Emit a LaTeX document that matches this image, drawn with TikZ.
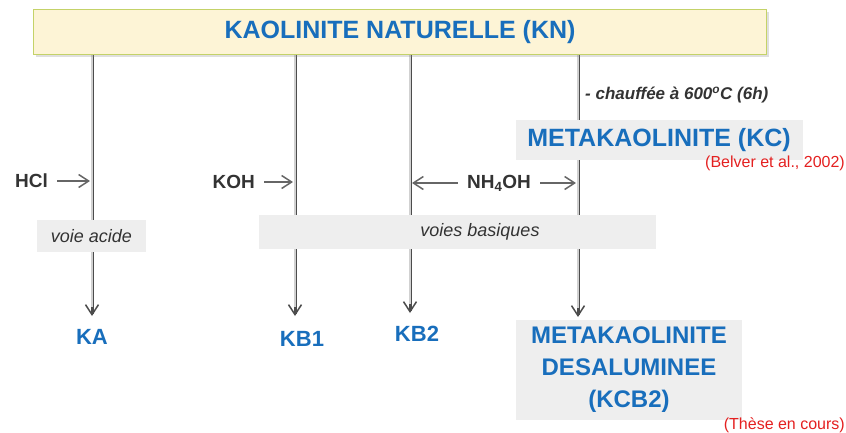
\documentclass[tikz,border=0pt]{standalone}
\usepackage{fontspec}
\setmainfont{Liberation Sans}
\usetikzlibrary{arrows.meta}
\usetikzlibrary{positioning}
\usetikzlibrary{backgrounds}
\usetikzlibrary{shadows}

\definecolor{knblue}{RGB}{24,110,188}
\definecolor{knred}{RGB}{228,32,32}
\definecolor{kntext}{RGB}{51,51,51}
\definecolor{knfill}{RGB}{253,244,214}
\definecolor{knedge}{RGB}{196,210,104}
\definecolor{knbox}{RGB}{238,238,238}

\begin{document}
\begin{tikzpicture}[x=1pt,y=-1pt,>={Straight Barb[length=10pt,width=13pt,line width=1.5pt]},
    flow/.style={->,draw=black!70,line width=3pt,postaction={draw=black!18,line width=1.3pt,-,shorten >=9pt}},
    push/.style={->,draw=black!60,line width=1.6pt,shorten <=7pt,shorten >=2pt},
    main node/.style={rectangle,font=\fontsize{25}{30}\selectfont\bfseries,text=knblue,inner sep=0pt},
    end node/.style={font=\fontsize{22}{26}\selectfont\bfseries,text=knblue,inner sep=2pt},
    grey box/.style={rectangle,fill=knbox,inner sep=0pt},
    way node/.style={font=\fontsize{18}{22}\selectfont\itshape,text=kntext},
    reagent/.style={font=\fontsize{19}{22}\selectfont\bfseries,text=kntext,inner sep=2pt},
    ref node/.style={font=\fontsize{16}{19}\selectfont,text=knred,inner sep=0pt}]

    \useasboundingbox (0,0) rectangle (846,432);

    % starting material
    \node[main node,fill=knfill,draw=knedge,line width=1.5pt,minimum width=733pt,minimum height=45pt,
          drop shadow={opacity=0.25,shadow xshift=2pt,shadow yshift=-2pt}] (kn) at (400,32) {KAOLINITE NATURELLE (KN)};

    % line positions
    \coordinate (a) at (92,316);
    \coordinate (b1) at (295,316);
    \coordinate (b2) at (410,313);
    \coordinate (c) at (578,317);

    % products
    \node[end node] (ka) at (92,337) {KA};
    \node[end node] (kb1) at (302,339) {KB1};
    \node[end node] (kb2) at (417,334) {KB2};
    \node[main node,grey box,minimum width=226pt,minimum height=100pt,align=center,
          font=\fontsize{24}{32}\selectfont\bfseries] (kcb2) at (629,370) {METAKAOLINITE\\DESALUMINEE\\(KCB2)};
    \node[ref node,anchor=east] (these) at (845,425) {(Thèse en cours)};

    % metakaolinite
    \node[main node,grey box,minimum width=287pt,minimum height=40pt] (kc) at (659,140) {METAKAOLINITE (KC)};
    \node[ref node,anchor=east] (belver) at (845,163) {(Belver et al., 2002)};
    \node[font=\fontsize{17}{20}\selectfont\bfseries\itshape,text=kntext,anchor=west,inner sep=0pt] (heat) at (585,95) {- chauffée à 600\textsuperscript{o}C (6h)};

    % reagents
    \node[reagent,anchor=east] (hcl) at (50,181) {HCl};
    \node[reagent,anchor=east] (koh) at (257,182) {KOH};
    \node[reagent] (nh4oh) at (499,183) {NH\textsubscript{4}OH};

    % ways
    \node[grey box,minimum width=109pt,minimum height=32pt] (acide) at (91.5,236) {};
    \node[way node] at (acide) {voie acide};
    \node[grey box,minimum width=397pt,minimum height=34pt] (basiques) at (457.5,232) {};
    \node[way node] at (480,232) {voies basiques};

    \begin{scope}[on background layer]
        \draw[flow] (kn.south -| a) -- (a);
        \draw[flow] (kn.south -| b1) -- (b1);
        \draw[flow] (kn.south -| b2) -- (b2);
        \draw[flow] (kn.south -| c) -- (c);
    \end{scope}

    \draw[push] (hcl.east) -- (hcl.east -| a);
    \draw[push] (koh.east) -- (koh.east -| b1);
    \draw[push] (nh4oh.west) -- (nh4oh.west -| b2);
    \draw[push] (nh4oh.east) -- (nh4oh.east -| c);

\end{tikzpicture}
\end{document}
